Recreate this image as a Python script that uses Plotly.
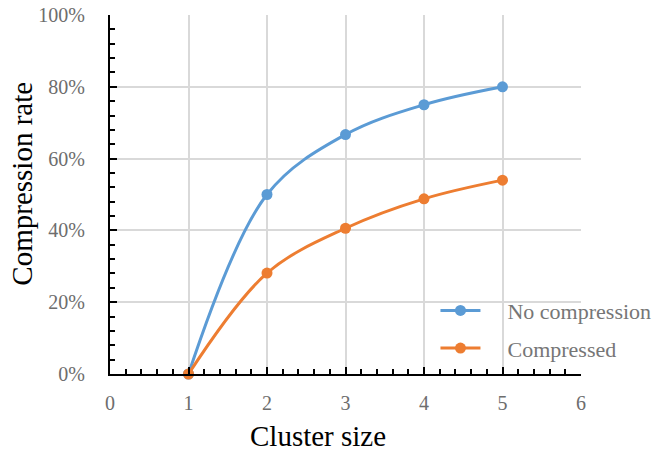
import plotly.graph_objects as go

cluster_size = [1, 2, 3, 4, 5]
no_compression = [0.0, 0.50, 0.667, 0.75, 0.80]
compressed = [0.0, 0.281, 0.406, 0.488, 0.540]

BLUE = "#5B9BD5"
ORANGE = "#ED7D31"
FONT = "Liberation Serif, Times New Roman, serif"
PAD = "\u00a0\u00a0\u00a0\u00a0"

fig = go.Figure()
fig.add_trace(go.Scatter(
    x=cluster_size, y=no_compression, name=PAD + "No compression",
    mode="lines+markers", line=dict(color=BLUE, width=3, shape="spline", smoothing=1),
    marker=dict(size=11, color=BLUE), cliponaxis=False, legendgroup="a"))
fig.add_trace(go.Scatter(
    x=cluster_size, y=compressed, name=PAD + "Compressed",
    mode="lines+markers", line=dict(color=ORANGE, width=3, shape="spline", smoothing=1),
    marker=dict(size=11, color=ORANGE), cliponaxis=False, legendgroup="b"))

fig.update_layout(
    width=654, height=452,
    margin=dict(l=110, r=73, t=15, b=78, autoexpand=False),
    paper_bgcolor="white", plot_bgcolor="white",
    font=dict(family=FONT),
    showlegend=True,
    legend=dict(
        x=0.691, y=0.235, xanchor="left", yanchor="top",
        bgcolor="rgba(0,0,0,0)", font=dict(size=22, color="#767676", family=FONT),
        itemwidth=40, tracegroupgap=6),
    shapes=[dict(type="rect", xref="paper", yref="paper", x0=0.794, x1=1.2,
                 y0=0.03, y1=0.248, fillcolor="white", line=dict(width=0),
                 layer="between")],
    annotations=[
        dict(text="Cluster size", xref="paper", yref="paper", x=0.442, y=-0.173,
             xanchor="center", yanchor="middle", showarrow=False,
             font=dict(size=29, color="black", family=FONT)),
        dict(text="Compression rate", xref="paper", yref="paper", x=-0.187, y=0.53,
             xanchor="center", yanchor="middle", showarrow=False, textangle=-90,
             font=dict(size=29, color="black", family=FONT)),
    ],
)

fig.update_xaxes(
    range=[0, 6], dtick=1, tick0=0, automargin=False,
    showline=True, linecolor="black", linewidth=2,
    ticks="inside", ticklen=7, tickwidth=1.5, tickcolor="black",
    minor=dict(dtick=0.2, ticks="inside", ticklen=5, tickwidth=1.5, tickcolor="black", showgrid=False),
    showgrid=True, gridcolor="#d9d9d9", gridwidth=1.5,
    zeroline=False,
    tickfont=dict(size=20, color="#6d6d6d", family=FONT),
    ticklabelstandoff=10,
)
fig.update_yaxes(
    range=[0, 1], dtick=0.2, tick0=0, tickformat=".0%", automargin=False,
    showline=True, linecolor="black", linewidth=2,
    ticks="inside", ticklen=7, tickwidth=1.5, tickcolor="black",
    minor=dict(dtick=0.04, ticks="inside", ticklen=5, tickwidth=1.5, tickcolor="black", showgrid=False),
    showgrid=True, gridcolor="#d9d9d9", gridwidth=1.5,
    zeroline=False,
    tickfont=dict(size=20, color="#6d6d6d", family=FONT),
    ticklabelstandoff=19,
)

fig.write_html("out.html")
